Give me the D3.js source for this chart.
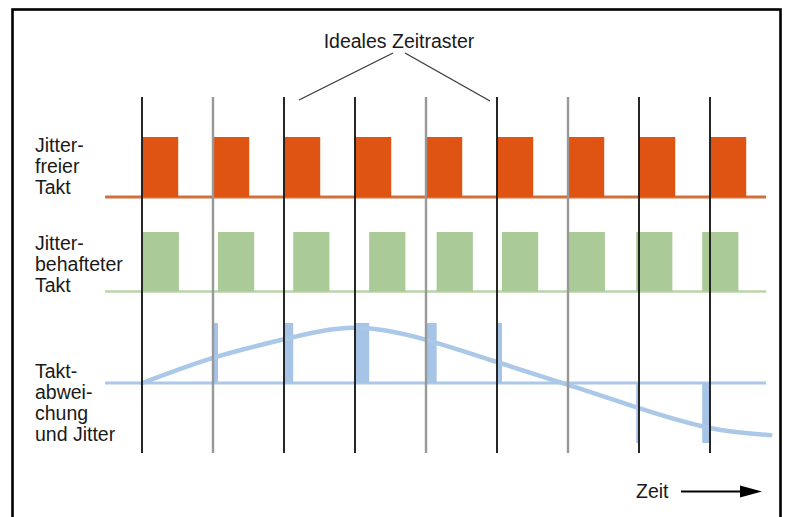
<!DOCTYPE html>
<html>
<head>
<meta charset="utf-8">
<script src="https://cdn.jsdelivr.net/npm/d3@7"></script>
<style>
    body { margin: 0; background: #fff; }
    svg text { font-family: "Liberation Sans", Arial, sans-serif; fill: #1a1a1a; }
</style>
</head>
<body>
<svg id="canvas" width="786" height="517"></svg>
<script>
// takt times (ns), one clock period = 10
var taktTimes = [0, 10, 20, 30, 40, 50, 60, 70, 80];
// which grid lines are drawn dark / light in the original
var gridKind = ["dark", "light", "dark", "dark", "light", "dark", "light", "dark", "dark"];
// jitter of each edge of the jittered clock (ns)
var jitter = [0.1, 0.7, 1.3, 2.0, 1.5, 0.7, 0.1, -0.4, -1.1];
// high time of a pulse (ns)
var highTime = 5.1;
// slow clock deviation (relative units)
var devTimes = [0, 10, 20, 30, 40, 50, 60, 70, 80, 88.5];
var devValues = [0, 0.42, 0.73, 0.92, 0.72, 0.35, -0.03, -0.42, -0.75, -0.87];
// row labels
var rowLabels = [
    ["Jitter-", "freier", "Takt"],
    ["Jitter-", "behafteter", "Takt"],
    ["Takt-", "abwei-", "chung", "und Jitter"]
];
var titleText = "Ideales Zeitraster";
var axisText = "Zeit";
var lineFrom = -5.2, lineTo = 87.9;

var svg = d3.select("#canvas");

var x = d3.scaleLinear().domain([0, 10]).range([142, 213]);
var yClean = d3.scaleLinear().domain([0, 1]).range([197, 137]);
var yJit = d3.scaleLinear().domain([0, 1]).range([291.5, 232]);
var yDev = d3.scaleLinear().domain([-1, 1]).range([443, 323]);

var colors = {
    orange: "#df5313", orangeLine: "#d0703c",
    green: "#aacb98", greenLine: "#b8d5a8",
    blue: "#a6c4e6", blueLine: "#abc8e8",
    dark: "#1c1c1c", light: "#989898"
};
var fontSize = "19.5px";

// frame
svg.append("rect")
    .attr("x", 12.5).attr("y", 9.5)
    .attr("width", 768).attr("height", 530)
    .attr("fill", "none").attr("stroke", "#000").attr("stroke-width", 2.6);

/****************************
 *   jitter free clock      *
 ***************************/
svg.append("line")
    .attr("x1", x(lineFrom)).attr("x2", x(lineTo))
    .attr("y1", yClean(0)).attr("y2", yClean(0))
    .attr("stroke", colors.orangeLine).attr("stroke-width", 3);

svg.selectAll("rect.clean").data(taktTimes).enter().append("rect")
    .attr("class", "clean")
    .attr("x", function(d){ return x(d); })
    .attr("width", function(d){ return x(d + highTime) - x(d); })
    .attr("y", yClean(1))
    .attr("height", yClean(0) - yClean(1))
    .attr("fill", colors.orange);

/****************************
 *     jittered clock       *
 ***************************/
svg.append("line")
    .attr("x1", x(lineFrom)).attr("x2", x(lineTo))
    .attr("y1", yJit(0)).attr("y2", yJit(0))
    .attr("stroke", colors.greenLine).attr("stroke-width", 2.5);

svg.selectAll("rect.jit").data(taktTimes).enter().append("rect")
    .attr("class", "jit")
    .attr("x", function(d, i){ return x(d + jitter[i]); })
    .attr("width", function(d){ return x(d + highTime) - x(d); })
    .attr("y", yJit(1))
    .attr("height", yJit(0) - yJit(1))
    .attr("fill", colors.green);

/****************************
 *   deviation and jitter   *
 ***************************/
svg.append("line")
    .attr("x1", x(lineFrom)).attr("x2", x(lineTo))
    .attr("y1", yDev(0)).attr("y2", yDev(0))
    .attr("stroke", colors.blueLine).attr("stroke-width", 3);

svg.selectAll("rect.dev").data(taktTimes).enter().append("rect")
    .attr("class", "dev")
    .attr("x", function(d, i){ return Math.min(x(d), x(d + jitter[i])); })
    .attr("width", function(d, i){ return Math.abs(x(d + jitter[i]) - x(d)); })
    .attr("y", function(d, i){ return jitter[i] >= 0 ? yDev(1) : yDev(0); })
    .attr("height", function(d, i){ return jitter[i] >= 0 ? yDev(0) - yDev(1) : yDev(-1) - yDev(0); })
    .attr("fill", colors.blue);

var devLine = d3.line()
    .x(function(d, i){ return x(devTimes[i]); })
    .y(function(d){ return yDev(d); })
    .curve(d3.curveNatural);

svg.append("path")
    .attr("d", devLine(devValues))
    .attr("fill", "none")
    .attr("stroke", colors.blueLine)
    .attr("stroke-width", 4.5)
    .attr("stroke-linecap", "round");

// ideal time grid on top
svg.selectAll("line.grid").data(taktTimes).enter().append("line")
    .attr("class", "grid")
    .attr("x1", function(d){ return x(d); })
    .attr("x2", function(d){ return x(d); })
    .attr("y1", 97).attr("y2", 453)
    .attr("stroke", function(d, i){ return colors[gridKind[i]]; })
    .attr("stroke-width", function(d, i){ return gridKind[i] == "light" ? 2.4 : 1.9; });

/****************************
 *          texts           *
 ***************************/
svg.append("text")
    .text(titleText)
    .attr("x", 399).attr("y", 48)
    .attr("text-anchor", "middle")
    .style("font-size", fontSize);

svg.append("line")
    .attr("x1", 393).attr("y1", 53)
    .attr("x2", x(20) + 15).attr("y2", 100)
    .attr("stroke", "#3a3a3a").attr("stroke-width", 1.3);
svg.append("line")
    .attr("x1", 405).attr("y1", 53)
    .attr("x2", x(50) - 7).attr("y2", 101)
    .attr("stroke", "#3a3a3a").attr("stroke-width", 1.3);

var labelTops = [152, 250, 378];
rowLabels.forEach(function(lines, r){
    var t = svg.append("text")
        .attr("x", 35).attr("y", labelTops[r])
        .style("font-size", fontSize);
    t.selectAll("tspan").data(lines).enter().append("tspan")
        .attr("x", 35)
        .attr("dy", function(d, i){ return i === 0 ? 0 : 21; })
        .text(function(d){ return d; });
});

svg.append("text")
    .text(axisText)
    .attr("x", 636).attr("y", 498)
    .style("font-size", fontSize);

svg.append("line")
    .attr("x1", 681).attr("y1", 491.5)
    .attr("x2", 742).attr("y2", 491.5)
    .attr("stroke", "#000").attr("stroke-width", 1.8);
svg.append("path")
    .attr("d", "M740,485.5 L762,491.5 L740,497.5 Z")
    .attr("fill", "#000");
</script>
</body>
</html>
